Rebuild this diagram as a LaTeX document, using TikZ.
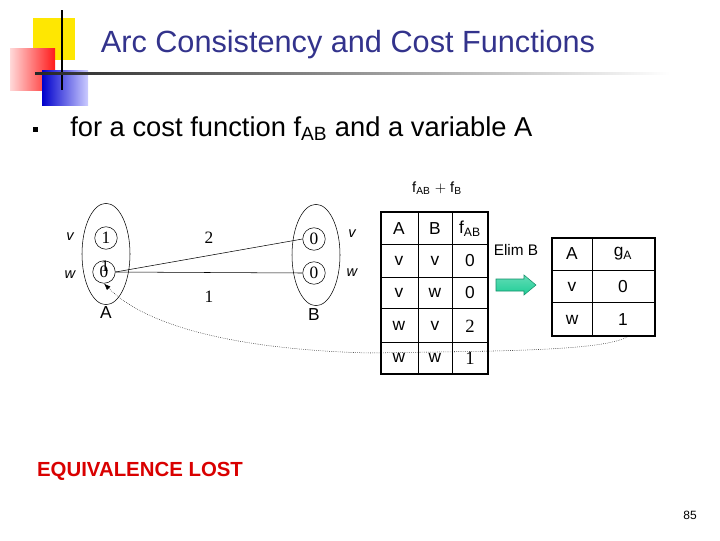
\documentclass[tikz,border=0pt]{standalone}
\usepackage{fontspec}
\setmainfont{Liberation Sans}
\newfontfamily\serifA{Liberation Serif}
\usetikzlibrary{arrows.meta,shapes.geometric,shadings}
\definecolor{titleblue}{RGB}{51,51,140}
\definecolor{arrgreen}{RGB}{30,205,150}
\tikzset{
  vc/.style={circle,draw,minimum size=22.5pt*0.75,inner sep=0pt,font=\serifA\fontsize{13}{13}\selectfont},
  dom/.style={ellipse,draw,minimum width=36pt,minimum height=76pt},
  lab/.style={font=\fontsize{11}{11}\selectfont\itshape},
  cell/.style={font=\fontsize{13}{13}\selectfont},
}
\begin{document}
\begin{tikzpicture}[x=0.75pt,y=-0.75pt]
\useasboundingbox (0,0) rectangle (720,540);
% logo
\fill[yellow!90!orange] (33,18) rectangle (75,60);
\shade[left color=red!15,right color=red!90] (10,48) rectangle (55,90);
\shade[left color=blue!80!black,right color=blue!20] (42,70) rectangle (88,105);
\draw[line width=1pt] (62,10) -- (62,90);
\shade[left color=black!85,right color=white] (35,72) rectangle (670,74.5);
\node[text=titleblue,font=\fontsize{23}{24}\selectfont] (title) at (348,45) {Arc Consistency and Cost Functions};
% bullet
\fill (33,127) rectangle (38,132);
\node[anchor=west,inner sep=0pt,font=\fontsize{20.5}{22}\selectfont] (bul) at (70,129) {for a cost function f\textsubscript{AB} and a variable A};
% graph
\node[dom] (DA) at (106,254) {};
\node[dom] (DB) at (316,255) {};
\node[vc] (Av) at (106,238) {1};
\node[vc] (Aw) at (104,272) {0};
\node[font=\serifA\fontsize{12}{12}\selectfont,inner sep=0pt] at (105,266) {1};
\node[vc] (Bv) at (314,239) {0};
\node[vc] (Bw) at (314,273) {0};
\node[lab] at (70,237) {v};
\node[lab] at (70,275) {w};
\node[lab] at (352,234) {v};
\node[lab] at (352,273) {w};
\node[cell] (LA) at (106,313) {A};
\node[cell] (LB) at (314,315) {B};
\draw (Aw.east) -- (Bv.west);
\draw (Aw.east) -- (Bw.west);
\node[font=\serifA\fontsize{13}{13}\selectfont] (c2) at (209,238) {2};
\node[font=\serifA\fontsize{13}{13}\selectfont] (c1) at (209,297) {1};
% table 1
\node[font=\fontsize{11}{11}\selectfont] (sum) at (437,188) {f\textsubscript{AB} $+$ f\textsubscript{B}};
\draw[line width=1pt] (381,212) rectangle (488,374);
\foreach \y in {244,277,308,342} \draw (381,\y) -- (488,\y);
\foreach \x in {418,452} \draw (\x,212) -- (\x,374);
\node[cell] at (399,229) {A};
\node[cell] at (435,229) {B};
\node[cell] at (470,229) {f\textsubscript{AB}};
\node[cell] at (399,261) {v};\node[cell] at (435,261) {v};\node[cell] at (470,261) {0};
\node[cell] at (399,293) {v};\node[cell] at (435,293) {w};\node[cell] at (470,293) {0};
\node[cell] at (399,326) {w};\node[cell] at (435,326) {v};\node[cell,font=\serifA\fontsize{14}{14}\selectfont] at (470,326) {2};
\node[cell] at (399,358) {w};\node[cell] at (435,358) {w};\node[cell,font=\serifA\fontsize{14}{14}\selectfont] at (470,358) {1};
\node[font=\fontsize{11.5}{12}\selectfont] (elim) at (516,250) {Elim B};
\shade[top color=arrgreen!70,bottom color=arrgreen,draw=arrgreen!70!black] (496,279) -- (524,279) -- (524,275) -- (536,285) -- (524,295) -- (524,291) -- (496,291) -- cycle;
% table 2
\draw[line width=1pt] (552,238) rectangle (655,336);
\foreach \y in {270,302} \draw (552,\y) -- (655,\y);
\draw (592,238) -- (592,336);
\node[cell] at (572,254) {A};\node[cell] at (623,254) {g\textsubscript{A}};
\node[cell] at (572,287) {v};\node[cell] at (623,287) {0};
\node[cell] at (572,320) {w};\node[cell] at (623,320) {1};
\coordinate (g) at (627,337);
\draw[densely dotted,-{Latex[length=5pt]}] (g) .. controls (600,352) and (480,351) .. (370,353) .. controls (250,350) and (150,330) .. (Aw.south);
\node[text=red!85!black,font=\bfseries\fontsize{15.3}{16}\selectfont] (eq) at (140,471) {EQUIVALENCE LOST};
\node[font=\fontsize{9}{10}\selectfont] (pg) at (690,515) {85};
\end{tikzpicture}
\end{document}
